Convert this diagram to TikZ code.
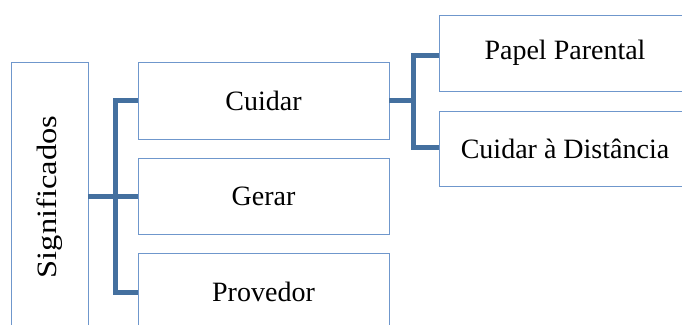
\documentclass[tikz,border=0pt]{standalone}
\usepackage{fontspec}
\setmainfont{Liberation Serif}
\definecolor{boxline}{HTML}{6F97CC}
\definecolor{linkblue}{HTML}{44709F}
\begin{document}
\begin{tikzpicture}[x=1pt,y=-1pt,
  box/.style={draw=boxline,line width=1pt,fill=white},
  lbl/.style={font=\fontsize{28}{32}\selectfont,inner sep=0pt},
  link/.style={draw=linkblue,line width=5pt,line cap=butt,line join=miter}]
\useasboundingbox (0,0) rectangle (682,324);
\clip (0,0) rectangle (682,324);
% boxes
\draw[box] (11,62) rectangle (88,334);
\draw[box] (138,62) rectangle (389,139);
\draw[box] (138,158) rectangle (389,234);
\draw[box] (138,253) rectangle (389,330);
\draw[box] (439,15) rectangle (691,91);
\draw[box] (439,111) rectangle (691,186);
% labels
\node[lbl,rotate=90,xscale=1.16] (sig) at (49.5,197) {Significados};
\node[lbl] (cuidar) at (263.5,100.5) {Cuidar};
\node[lbl] (gerar) at (263.5,196) {Gerar};
\node[lbl] (prov) at (263.5,291.5) {Provedor};
\node[lbl] (papel) at (565,53) {Papel Parental};
\node[lbl] (dist) at (565,148.5) {Cuidar à Distância};
% anchor coordinates
\coordinate (sigR) at (88,196);
\coordinate (cuiL) at (138,100);
\coordinate (gerL) at (138,196);
\coordinate (proL) at (138,292);
\coordinate (cuiR) at (389,100);
\coordinate (papL) at (439,55);
\coordinate (disL) at (439,147);
% connectors
\draw[link] (sigR) -- (gerL);
\draw[link] (cuiL) -- (115,100) -- (115,292) -- (proL);
\draw[link] (cuiR) -- (413,100);
\draw[link] (papL) -- (413,55) -- (413,147) -- (disL);
\end{tikzpicture}
\end{document}
